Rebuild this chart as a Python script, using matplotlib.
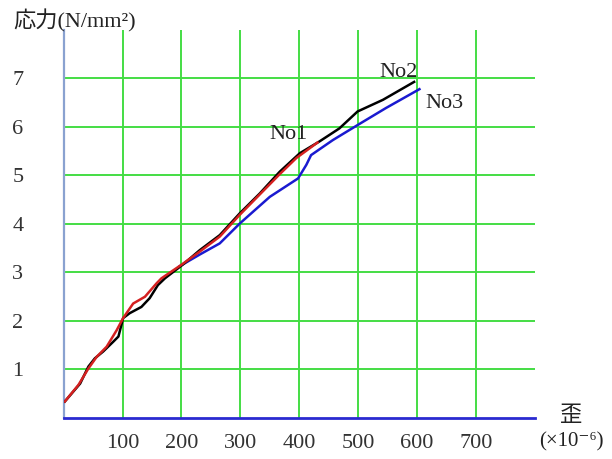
import matplotlib
matplotlib.use("Agg")
import matplotlib.pyplot as plt

# strain (x10^-6) / stress (N/mm2)
no1_x = [2, 25, 42, 56, 73, 90, 101, 118, 138, 158, 166, 200, 231, 265, 299, 333, 367, 395, 431]
no1_y = [0.33, 0.67, 1.01, 1.25, 1.46, 1.80, 2.05, 2.35, 2.49, 2.77, 2.87, 3.15, 3.42, 3.73, 4.18, 4.60, 5.02, 5.35, 5.67]

no2_x = [2, 28, 42, 53, 67, 84, 93, 101, 112, 132, 146, 160, 172, 203, 231, 265, 299, 333, 367, 401, 434, 468, 499, 542, 595]
no2_y = [0.33, 0.70, 1.05, 1.22, 1.36, 1.56, 1.67, 2.05, 2.15, 2.28, 2.46, 2.73, 2.87, 3.16, 3.45, 3.76, 4.21, 4.62, 5.07, 5.45, 5.69, 5.96, 6.31, 6.55, 6.92]

no3_x = [197, 231, 265, 299, 350, 398, 412, 420, 457, 499, 547, 604]
no3_y = [3.12, 3.36, 3.59, 4.00, 4.55, 4.93, 5.21, 5.41, 5.72, 6.03, 6.38, 6.77]

xticks = [100, 200, 300, 400, 500, 600, 700]
yticks = [1, 2, 3, 4, 5, 6, 7]

serif = ["Liberation Serif", "DejaVu Serif", "Noto Sans CJK JP"]

fig = plt.figure(figsize=(6.12, 4.59), dpi=100)
ax = fig.add_axes([0.104, 0.0904, 0.770, 0.8453])
ax.set_xlim(0, 800)
ax.set_ylim(0, 8)

grid_col = "#44dd44"
for x in xticks:
    ax.axvline(x, color=grid_col, lw=1.4, zorder=1)
for y in yticks:
    ax.axhline(y, xmin=0.006, color=grid_col, lw=1.4, zorder=1)

ax.plot(no2_x, no2_y, color="black", lw=1.8, zorder=3)
ax.plot(no1_x, no1_y, color="#d42020", lw=1.8, zorder=4)
ax.plot(no3_x, no3_y, color="#1a1ad0", lw=1.8, zorder=2)

lab = dict(fontsize=16, family=serif, color="#222222")
ax.text(349, 5.74, "No1", **lab)
ax.text(536, 7.03, "No2", **lab)
ax.text(614, 6.38, "No3", **lab)

for s in ["top", "right"]:
    ax.spines[s].set_visible(False)
ax.spines["left"].set_color("#8aa2d0")
ax.spines["left"].set_linewidth(1.6)
ax.spines["bottom"].set_color("#2a2ad0")
ax.spines["bottom"].set_linewidth(2.0)

ax.set_xticks(xticks)
ax.set_yticks(yticks)
ax.tick_params(length=0, labelsize=16, colors="#333333")
ax.tick_params(axis="x", pad=12)
ax.tick_params(axis="y", pad=33)
for t in ax.get_xticklabels() + ax.get_yticklabels():
    t.set_family(serif)
for t in ax.get_yticklabels():
    t.set_horizontalalignment("center")

fig.text(0.022, 0.955, "応力(N/mm²)", fontsize=16, family=serif, color="#222222", va="center")
fig.text(0.933, 0.093, "歪", fontsize=16, family=serif, color="#222222", ha="center", va="center")
fig.text(0.933, 0.038, "(×10⁻⁶)", fontsize=15, family=serif, color="#222222", ha="center", va="center")

fig.savefig("out.png", dpi=100)
